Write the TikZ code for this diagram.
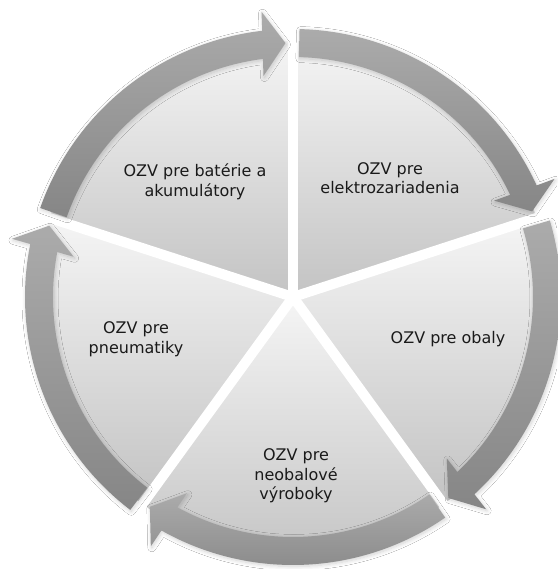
\documentclass[tikz,border=0pt]{standalone}
\usepackage{fontspec}
\newfontfamily\lblfont{DejaVu Sans}
\usetikzlibrary{shadows.blur}
\definecolor{arrowtop}{HTML}{ABABAB}
\definecolor{arrowbot}{HTML}{868686}
\definecolor{segtop}{HTML}{F5F5F5}
\definecolor{segbot}{HTML}{C3C3C3}
\definecolor{txt}{HTML}{1A1A1A}
\tikzset{
  segment/.style={top color=segtop, bottom color=segbot, draw=none},
  cycarrow/.style={top color=arrowtop, bottom color=arrowbot, draw=none,
    blur shadow={shadow xshift=1pt, shadow yshift=-1.5pt, shadow blur radius=4pt, shadow blur steps=8, shadow opacity=18}},
  gapline/.style={white, line width=10pt},
  lbltext/.style={font=\lblfont\fontsize{16}{19.5}\selectfont, text=txt, align=center, inner sep=0pt}
}
\newcommand\cyclearrow[2]{%
  \shade[cycarrow] (#1:268pt) arc[start angle=#1, end angle={#2+4.9}, radius=268pt]
    -- ({#2+4.6}:287pt) -- (#2:254pt) -- ({#2+5.9}:223pt) -- ({#2+5.5}:240pt)
    arc[start angle={#2+5.5}, end angle=#1, radius=240pt] -- cycle;}
\begin{document}
\begin{tikzpicture}[x=1pt,y=1pt]
  \useasboundingbox (-293,-272) rectangle (264,297);
  \fill[white] (-293,-272) rectangle (264,297);
  % pie segments
  \foreach \a/\b in {90/18, 18/-54, -54/-126, -126/-198, -198/-270}
    \shade[segment] (0,0) -- (\a:256pt) arc[start angle=\a, end angle=\b, radius=256pt] -- cycle;
  \foreach \a in {90,18,-54,-126,-198}
    \draw[gapline] (0,0) -- (\a:262pt);
  % arrows
  \cyclearrow{88.6}{19.7}
  \cyclearrow{16.6}{-52.3}
  \cyclearrow{-55.4}{-124.3}
  \cyclearrow{-127.4}{-196.3}
  \cyclearrow{-199.4}{-268.3}
  % labels
  \node[lbltext] (s1) at (-98,115) {OZV pre batérie a\\akumulátory};
  \node[lbltext] (s2) at (97,119) {OZV pre\\elektrozariadenia};
  \node[lbltext] (s3) at (155,-42) {OZV pre obaly};
  \node[lbltext] (s4) at (3,-179) {OZV pre\\neobalové\\výroboky};
  \node[lbltext] (s5) at (-157,-42) {OZV pre\\pneumatiky};
\end{tikzpicture}
\end{document}
